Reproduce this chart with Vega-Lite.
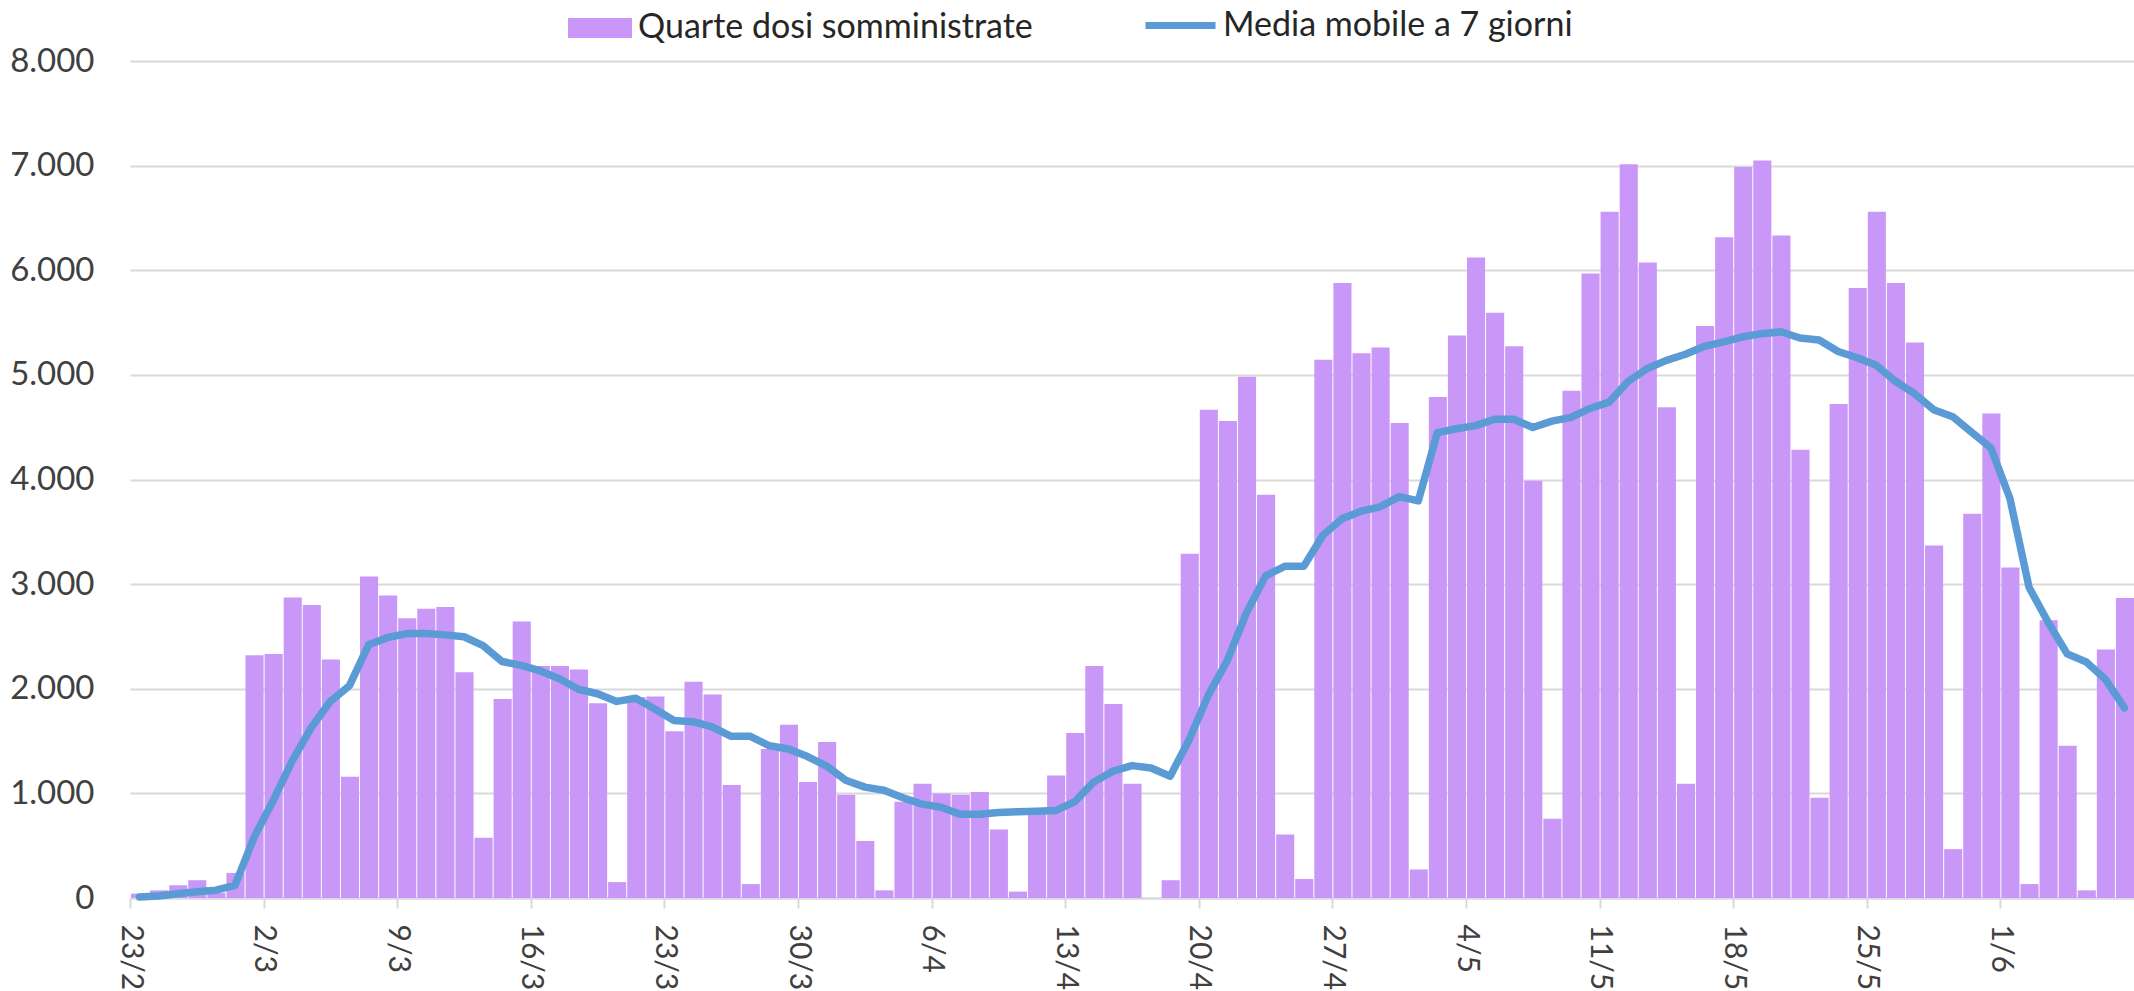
{
  "$schema": "https://vega.github.io/schema/vega-lite/v6.json",
  "width": 2004,
  "height": 837,
  "autosize": {"type": "none"},
  "padding": {"left": 130, "top": 61, "right": 0, "bottom": 93},
  "background": "white",
  "config": {"view": {"stroke": null}, "font": "Lato"},
  "data": {"values": [
    {"date": "2022-02-23", "dosi": 42, "media": 10},
    {"date": "2022-02-24", "dosi": 73, "media": 20},
    {"date": "2022-02-25", "dosi": 121, "media": 40},
    {"date": "2022-02-26", "dosi": 170, "media": 60},
    {"date": "2022-02-27", "dosi": 50, "media": 75},
    {"date": "2022-02-28", "dosi": 240, "media": 120},
    {"date": "2022-03-01", "dosi": 2321, "media": 580},
    {"date": "2022-03-02", "dosi": 2333, "media": 930},
    {"date": "2022-03-03", "dosi": 2873, "media": 1310},
    {"date": "2022-03-04", "dosi": 2800, "media": 1630},
    {"date": "2022-03-05", "dosi": 2279, "media": 1880},
    {"date": "2022-03-06", "dosi": 1158, "media": 2030},
    {"date": "2022-03-07", "dosi": 3073, "media": 2420},
    {"date": "2022-03-08", "dosi": 2891, "media": 2490},
    {"date": "2022-03-09", "dosi": 2673, "media": 2527},
    {"date": "2022-03-10", "dosi": 2764, "media": 2527},
    {"date": "2022-03-11", "dosi": 2782, "media": 2515},
    {"date": "2022-03-12", "dosi": 2158, "media": 2497},
    {"date": "2022-03-13", "dosi": 576, "media": 2412},
    {"date": "2022-03-14", "dosi": 1903, "media": 2260},
    {"date": "2022-03-15", "dosi": 2642, "media": 2224},
    {"date": "2022-03-16", "dosi": 2218, "media": 2170},
    {"date": "2022-03-17", "dosi": 2218, "media": 2095},
    {"date": "2022-03-18", "dosi": 2185, "media": 1995},
    {"date": "2022-03-19", "dosi": 1861, "media": 1952},
    {"date": "2022-03-20", "dosi": 152, "media": 1879},
    {"date": "2022-03-21", "dosi": 1921, "media": 1909},
    {"date": "2022-03-22", "dosi": 1927, "media": 1806},
    {"date": "2022-03-23", "dosi": 1594, "media": 1697},
    {"date": "2022-03-24", "dosi": 2067, "media": 1685},
    {"date": "2022-03-25", "dosi": 1945, "media": 1636},
    {"date": "2022-03-26", "dosi": 1079, "media": 1545},
    {"date": "2022-03-27", "dosi": 133, "media": 1545},
    {"date": "2022-03-28", "dosi": 1424, "media": 1455},
    {"date": "2022-03-29", "dosi": 1655, "media": 1424},
    {"date": "2022-03-30", "dosi": 1109, "media": 1352},
    {"date": "2022-03-31", "dosi": 1491, "media": 1261},
    {"date": "2022-04-01", "dosi": 988, "media": 1125},
    {"date": "2022-04-02", "dosi": 545, "media": 1060},
    {"date": "2022-04-03", "dosi": 73, "media": 1030},
    {"date": "2022-04-04", "dosi": 921, "media": 958},
    {"date": "2022-04-05", "dosi": 1091, "media": 897},
    {"date": "2022-04-06", "dosi": 1000, "media": 867},
    {"date": "2022-04-07", "dosi": 988, "media": 800},
    {"date": "2022-04-08", "dosi": 1012, "media": 800},
    {"date": "2022-04-09", "dosi": 655, "media": 818},
    {"date": "2022-04-10", "dosi": 61, "media": 824},
    {"date": "2022-04-11", "dosi": 830, "media": 830},
    {"date": "2022-04-12", "dosi": 1170, "media": 836},
    {"date": "2022-04-13", "dosi": 1576, "media": 921},
    {"date": "2022-04-14", "dosi": 2218, "media": 1109},
    {"date": "2022-04-15", "dosi": 1855, "media": 1212},
    {"date": "2022-04-16", "dosi": 1091, "media": 1265},
    {"date": "2022-04-17", "dosi": 0, "media": 1242},
    {"date": "2022-04-18", "dosi": 170, "media": 1164},
    {"date": "2022-04-19", "dosi": 3291, "media": 1515},
    {"date": "2022-04-20", "dosi": 4667, "media": 1939},
    {"date": "2022-04-21", "dosi": 4558, "media": 2273},
    {"date": "2022-04-22", "dosi": 4982, "media": 2727},
    {"date": "2022-04-23", "dosi": 3855, "media": 3079},
    {"date": "2022-04-24", "dosi": 606, "media": 3170},
    {"date": "2022-04-25", "dosi": 182, "media": 3170},
    {"date": "2022-04-26", "dosi": 5145, "media": 3467},
    {"date": "2022-04-27", "dosi": 5879, "media": 3624},
    {"date": "2022-04-28", "dosi": 5206, "media": 3697},
    {"date": "2022-04-29", "dosi": 5261, "media": 3739},
    {"date": "2022-04-30", "dosi": 4539, "media": 3836},
    {"date": "2022-05-01", "dosi": 273, "media": 3795},
    {"date": "2022-05-02", "dosi": 4788, "media": 4448},
    {"date": "2022-05-03", "dosi": 5376, "media": 4485},
    {"date": "2022-05-04", "dosi": 6121, "media": 4515},
    {"date": "2022-05-05", "dosi": 5594, "media": 4576},
    {"date": "2022-05-06", "dosi": 5273, "media": 4576},
    {"date": "2022-05-07", "dosi": 3988, "media": 4497},
    {"date": "2022-05-08", "dosi": 758, "media": 4558},
    {"date": "2022-05-09", "dosi": 4848, "media": 4594},
    {"date": "2022-05-10", "dosi": 5970, "media": 4679},
    {"date": "2022-05-11", "dosi": 6558, "media": 4739},
    {"date": "2022-05-12", "dosi": 7012, "media": 4939},
    {"date": "2022-05-13", "dosi": 6073, "media": 5061},
    {"date": "2022-05-14", "dosi": 4691, "media": 5139},
    {"date": "2022-05-15", "dosi": 1091, "media": 5197},
    {"date": "2022-05-16", "dosi": 5467, "media": 5273},
    {"date": "2022-05-17", "dosi": 6315, "media": 5315},
    {"date": "2022-05-18", "dosi": 6988, "media": 5364},
    {"date": "2022-05-19", "dosi": 7048, "media": 5394},
    {"date": "2022-05-20", "dosi": 6333, "media": 5412},
    {"date": "2022-05-21", "dosi": 4285, "media": 5352},
    {"date": "2022-05-22", "dosi": 958, "media": 5333},
    {"date": "2022-05-23", "dosi": 4721, "media": 5224},
    {"date": "2022-05-24", "dosi": 5830, "media": 5164},
    {"date": "2022-05-25", "dosi": 6558, "media": 5091},
    {"date": "2022-05-26", "dosi": 5879, "media": 4939},
    {"date": "2022-05-27", "dosi": 5309, "media": 4820},
    {"date": "2022-05-28", "dosi": 3370, "media": 4667},
    {"date": "2022-05-29", "dosi": 467, "media": 4600},
    {"date": "2022-05-30", "dosi": 3673, "media": 4450},
    {"date": "2022-05-31", "dosi": 4630, "media": 4303},
    {"date": "2022-06-01", "dosi": 3158, "media": 3818},
    {"date": "2022-06-02", "dosi": 133, "media": 2970},
    {"date": "2022-06-03", "dosi": 2655, "media": 2636},
    {"date": "2022-06-04", "dosi": 1455, "media": 2333},
    {"date": "2022-06-05", "dosi": 73, "media": 2255},
    {"date": "2022-06-06", "dosi": 2376, "media": 2091},
    {"date": "2022-06-07", "dosi": 2867, "media": 1818}
  ]},
  "encoding": {
    "x": {
      "field": "date",
      "type": "temporal",
      "timeUnit": "utcyearmonthdate",
      "title": null,
      "scale": {
        "type": "utc",
        "domain": [
          {"year": 2022, "month": 2, "date": 23, "utc": true},
          {"year": 2022, "month": 6, "date": 8, "utc": true}
        ]
      },
      "axis": {
        "values": [
          {"year": 2022, "month": 2, "date": 23, "utc": true},
          {"year": 2022, "month": 3, "date": 2, "utc": true},
          {"year": 2022, "month": 3, "date": 9, "utc": true},
          {"year": 2022, "month": 3, "date": 16, "utc": true},
          {"year": 2022, "month": 3, "date": 23, "utc": true},
          {"year": 2022, "month": 3, "date": 30, "utc": true},
          {"year": 2022, "month": 4, "date": 6, "utc": true},
          {"year": 2022, "month": 4, "date": 13, "utc": true},
          {"year": 2022, "month": 4, "date": 20, "utc": true},
          {"year": 2022, "month": 4, "date": 27, "utc": true},
          {"year": 2022, "month": 5, "date": 4, "utc": true},
          {"year": 2022, "month": 5, "date": 11, "utc": true},
          {"year": 2022, "month": 5, "date": 18, "utc": true},
          {"year": 2022, "month": 5, "date": 25, "utc": true},
          {"year": 2022, "month": 6, "date": 1, "utc": true}
        ],
        "labelExpr": "utcFormat(datum.value, '%-d/%-m')",
        "labelAngle": 90,
        "labelAlign": "left",
        "labelBaseline": "middle",
        "labelFont": "Lato",
        "labelFontSize": 30,
        "labelColor": "#404040",
        "labelPadding": 16,
        "labelFlush": false,
        "labelOverlap": false,
        "grid": false,
        "domain": true,
        "domainColor": "#D9D9D9",
        "domainWidth": 2,
        "ticks": true,
        "tickColor": "#D9D9D9",
        "tickWidth": 2,
        "tickSize": 10
      }
    }
  },
  "layer": [
    {
      "mark": {"type": "bar", "timeUnitBandSize": 0.87, "timeUnitBandPosition": 0},
      "encoding": {
        "y": {
          "field": "dosi",
          "type": "quantitative",
          "title": null,
          "scale": {"domain": [0, 8000]},
          "axis": {
            "values": [0, 1000, 2000, 3000, 4000, 5000, 6000, 7000, 8000],
            "labelExpr": "replace(format(datum.value, ','), ',', '.')",
            "labelFont": "Lato",
            "labelFontSize": 33,
            "labelColor": "#404040",
            "labelPadding": 36,
            "domain": false,
            "ticks": false,
            "grid": true,
            "gridColor": "#D9D9D9",
            "gridWidth": 2
          }
        },
        "fill": {
          "datum": "Quarte dosi somministrate",
          "scale": {"range": ["#C897F7"]},
          "legend": {
            "title": null,
            "orient": "none",
            "legendX": 438,
            "legendY": -65,
            "symbolType": "M-1,-0.31H1V0.31H-1Z",
            "symbolSize": 4096,
            "symbolStrokeWidth": 0,
            "labelFont": "Lato",
            "labelFontSize": 34,
            "labelColor": "#262626",
            "labelLimit": 1000,
            "labelOffset": 6
          }
        }
      }
    },
    {
      "mark": {"type": "line", "strokeWidth": 7.5, "strokeCap": "round", "strokeJoin": "round"},
      "encoding": {
        "x": {"field": "date", "type": "temporal", "timeUnit": "utcyearmonthdate", "bandPosition": 0.5},
        "y": {"field": "media", "type": "quantitative"},
        "stroke": {
          "datum": "Media mobile a 7 giorni",
          "scale": {"range": ["#5B9BD5"]},
          "legend": {
            "title": null,
            "orient": "none",
            "legendX": 1012,
            "legendY": -74,
            "symbolType": "stroke",
            "symbolSize": 4900,
            "symbolStrokeWidth": 7,
            "labelFont": "Lato",
            "labelFontSize": 34,
            "labelColor": "#262626",
            "labelLimit": 1000,
            "labelOffset": 4
          }
        }
      }
    }
  ]
}
